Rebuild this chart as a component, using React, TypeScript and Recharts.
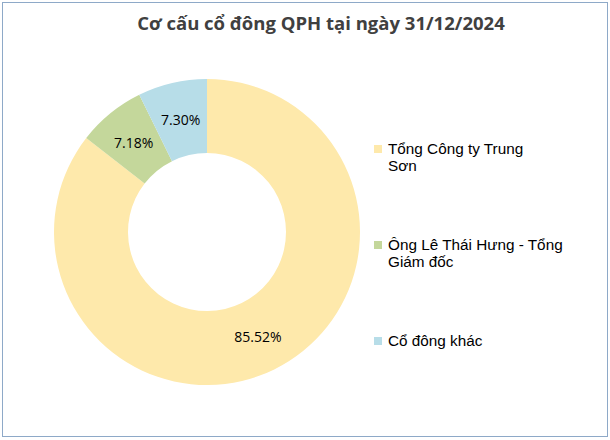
import React from 'react';
import { PieChart, Pie, Cell, Legend } from 'recharts';

const shareholders = ['Tổng Công ty Trung Sơn', 'Ông Lê Thái Hưng - Tổng Giám đốc', 'Cổ đông khác'];
// legend text wrapped as in the original
const legendLines = [['Tổng Công ty Trung', 'Sơn'], ['Ông Lê Thái Hưng - Tổng', 'Giám đốc'], ['Cổ đông khác']];
const shares = [85.52, 7.18, 7.3];
const colors = ['#FEE9AB', '#C4D79B', '#B7DDE8'];

const data = shareholders.map((name, i) => ({ name, value: shares[i] }));

const RAD = Math.PI / 180;

const renderLabel = ({ cx, cy, midAngle, innerRadius, outerRadius, value }: any) => {
  const r = (innerRadius + outerRadius) / 2;
  const x = cx + r * Math.cos(-midAngle * RAD);
  const y = cy + r * Math.sin(-midAngle * RAD);
  return (
    <text x={x} y={y} fill="#000" fontSize={14} fontFamily="'Open Sans', sans-serif" textAnchor="middle" dominantBaseline="central">
      {value.toFixed(2)}%
    </text>
  );
};

const LegendContent = () => (
  <div style={{ fontFamily: "'Liberation Sans', Arial, sans-serif", fontSize: 15.3, color: '#000', width: 220, lineHeight: '17px' }}>
    {legendLines.map((lines, i) => (
      <div key={i} style={{ display: 'flex', alignItems: 'flex-start', height: i < 2 ? 96 : 20 }}>
        <span style={{ display: 'inline-block', width: 8, height: 8, background: colors[i], marginTop: 5, marginRight: 6, flex: 'none' }} />
        <span style={{ whiteSpace: 'nowrap' }}>
          {lines.map((l, j) => (
            <div key={j}>{l}</div>
          ))}
        </span>
      </div>
    ))}
  </div>
);

export default function App() {
  return (
    <div style={{ position: 'absolute', left: 0, top: 0, width: 610, height: 440, background: '#fff' }}>
      <div style={{ position: 'absolute', left: 2, top: 2, width: 604, height: 433, border: '1px solid #8EA9C8' }} />
      <div style={{ position: 'absolute', left: 0, top: 10, width: 642, textAlign: 'center', fontFamily: "'Open Sans', sans-serif", fontWeight: 700, fontSize: 18.5, color: '#404040' }}>
        Cơ cấu cổ đông QPH tại ngày 31/12/2024
      </div>
      <PieChart width={610} height={440} style={{ position: 'absolute', left: 0, top: 0 }}>
        <Pie
          data={data}
          dataKey="value"
          nameKey="name"
          cx={202}
          cy={227}
          innerRadius={79}
          outerRadius={153}
          startAngle={90}
          endAngle={-270}
          stroke="none"
          label={renderLabel}
          labelLine={false}
          isAnimationActive={false}
        >
          {data.map((d, i) => (
            <Cell key={d.name} fill={colors[i]} />
          ))}
        </Pie>
        <Legend content={<LegendContent />} layout="vertical" wrapperStyle={{ left: 374, top: 140, width: 230 }} />
      </PieChart>
    </div>
  );
}
